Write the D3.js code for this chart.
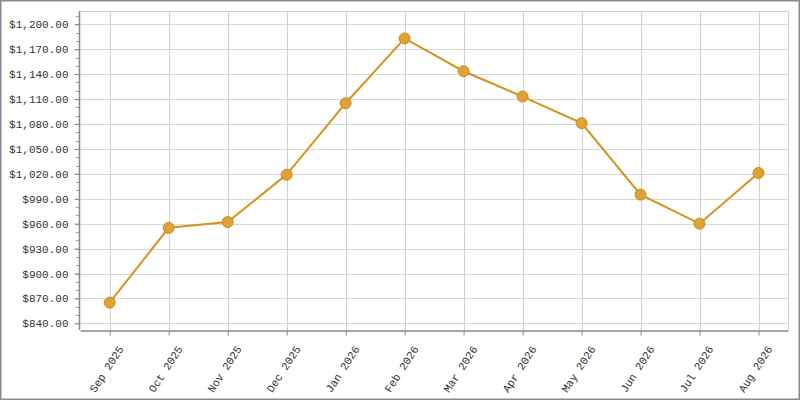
<!DOCTYPE html>
<html>
<head>
<meta charset="utf-8">
<script src="https://cdn.jsdelivr.net/npm/d3@7"></script>
<style>
  body { margin: 0; background: #fff; }
  svg { display: block; }
</style>
</head>
<body>
<div id="viz"></div>
<script>
const months = ['Sep 2025', 'Oct 2025', 'Nov 2025', 'Dec 2025', 'Jan 2026', 'Feb 2026',
  'Mar 2026', 'Apr 2026', 'May 2026', 'Jun 2026', 'Jul 2026', 'Aug 2026'];
const prices = [865, 955, 962, 1019, 1105, 1183, 1143.5, 1113, 1081, 995, 960, 1021];
const yTicks = [840, 870, 900, 930, 960, 990, 1020, 1050, 1080, 1110, 1140, 1170, 1200];
const yMinor = d3.range(840, 1220, 10);

const width = 800, height = 400,
  margin = { top: 11, right: 12, bottom: 70, left: 79 }; // plot box

const svg = d3.select('#viz').append('svg')
  .attr('width', width)
  .attr('height', height);

// outer frame
svg.append('rect')
  .attr('x', 0.75).attr('y', 0.75)
  .attr('width', width - 1.5).attr('height', height - 1.5)
  .attr('fill', '#fff')
  .attr('stroke', '#8a8a8a')
  .attr('stroke-width', 1.5);

const x = d3.scalePoint()
  .domain(months)
  .range([margin.left + 1.2, width - margin.right])
  .padding(0.5);

const y = d3.scaleLinear()
  .domain([832, 1216])
  .range([height - margin.bottom, margin.top]);

const fmt = d3.format('$,.2f');

// grid
svg.append('g')
  .selectAll('line')
  .data(yTicks)
  .enter().append('line')
    .attr('x1', margin.left).attr('x2', width - margin.right)
    .attr('y1', d => Math.round(y(d)) + 0.5).attr('y2', d => Math.round(y(d)) + 0.5)
    .attr('stroke', '#d8d8d8');
svg.append('g')
  .selectAll('line')
  .data(months)
  .enter().append('line')
    .attr('x1', d => Math.round(x(d)) + 0.5).attr('x2', d => Math.round(x(d)) + 0.5)
    .attr('y1', margin.top).attr('y2', height - margin.bottom)
    .attr('stroke', '#d0d0d0');

// plot border (top/right)
svg.append('path')
  .attr('d', `M${margin.left},${margin.top + 0.5}H${width - margin.right + 0.5}V${height - margin.bottom}`)
  .attr('fill', 'none')
  .attr('stroke', '#d0d0d0');

// y axis minor ticks
svg.append('g')
  .selectAll('line')
  .data(yMinor)
  .enter().append('line')
    .attr('x1', margin.left - 3).attr('x2', margin.left)
    .attr('y1', d => Math.round(y(d)) + 0.5).attr('y2', d => Math.round(y(d)) + 0.5)
    .attr('stroke', '#999');

// y axis
const yAxis = svg.append('g')
  .attr('transform', `translate(${margin.left + 0.5},0)`)
  .call(d3.axisLeft(y).tickValues(yTicks).tickFormat(fmt).tickSize(5).tickSizeOuter(0).tickPadding(6));

// x axis
const xAxis = svg.append('g')
  .attr('transform', `translate(0,${height - margin.bottom + 0.5})`)
  .call(d3.axisBottom(x).tickSize(5).tickSizeOuter(0));

[yAxis, xAxis].forEach(ax => {
  ax.select('.domain').attr('stroke', '#888').attr('stroke-width', 1.5);
  ax.selectAll('.tick line').attr('stroke', '#888');
  ax.selectAll('text')
    .attr('fill', '#333')
    .style('font-family', '"Liberation Mono", monospace')
    .style('font-size', '11px');
});
yAxis.select('.domain').attr('d', `M0,${margin.top}V${height - margin.bottom}`);

xAxis.selectAll('.tick text')
  .attr('text-anchor', 'end')
  .attr('dy', '0.35em')
  .attr('transform', 'translate(4,12) rotate(-57)');

// line
svg.append('path')
  .datum(prices)
  .attr('fill', 'none')
  .attr('stroke', '#d4921e')
  .attr('stroke-width', 2)
  .attr('d', d3.line()
    .x((d, i) => x(months[i]))
    .y(d => y(d)));

// points
svg.append('g')
  .selectAll('circle')
  .data(prices)
  .enter().append('circle')
    .attr('cx', (d, i) => x(months[i]))
    .attr('cy', d => y(d))
    .attr('r', 5.5)
    .attr('fill', '#e0a232')
    .attr('stroke', '#c88d1c')
    .attr('stroke-width', 1);
</script>
</body>
</html>
